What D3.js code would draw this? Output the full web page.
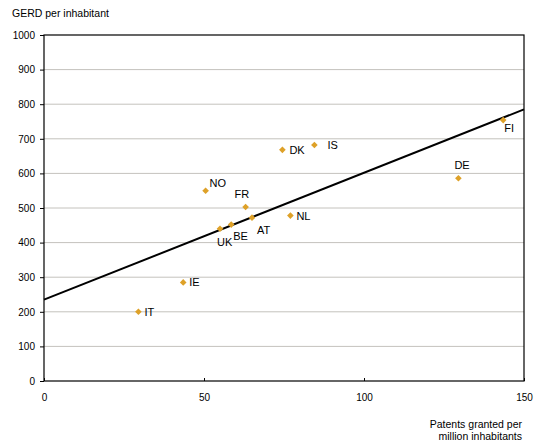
<!DOCTYPE html>
<html>
<head>
<meta charset="UTF-8">
<script src="https://d3js.org/d3.v7.min.js"></script>
<style>
  body { margin: 0; background: #fff; }
  text { font-family: "Liberation Sans", Arial, sans-serif; fill: #000; }
</style>
</head>
<body>
<script>
// data
var countries = ["IT", "IE", "UK", "BE", "AT", "FR", "NL", "NO", "DK", "IS", "DE", "FI"];
var patents   = [29.5, 43.5, 55, 58.5, 65, 63, 77, 50.5, 74.5, 84.5, 129.5, 143.5];
var gerd      = [200, 285, 440, 452, 472, 503, 478, 550, 668, 682, 586, 754];
var trend     = [[0, 235], [150, 785]];
var yTicks = [0, 100, 200, 300, 400, 500, 600, 700, 800, 900, 1000];
var xTicks = [0, 50, 100, 150];

// label offsets (dx, dy) per country
var labelPos = {
  IT: [6, 4], IE: [6, 4], UK: [-3, 17], BE: [2, 15],
  AT: [5, 16], FR: [-11, -9], NL: [6, 4], NO: [4, -4],
  DK: [7, 4], IS: [13, 4], DE: [-4, -9], FI: [1, 12]
};

var width = 534, height = 441;
var plotL = 44, plotR = 524, plotT = 35, plotB = 381;

var svg = d3.select("body").append("svg").attr("width", width).attr("height", height);

var x = d3.scaleLinear().domain([0, 150]).range([plotL, plotR]);
var y = d3.scaleLinear().domain([0, 1000]).range([plotB, plotT]);

// gridlines
svg.selectAll(".grid").data(yTicks.slice(1, -1)).enter().append("line")
  .attr("x1", plotL).attr("x2", plotR)
  .attr("y1", d => y(d)).attr("y2", d => y(d))
  .attr("stroke", "#c4c2bd").attr("stroke-width", 1);

// frame
svg.append("rect").attr("x", plotL).attr("y", plotT)
  .attr("width", plotR - plotL).attr("height", plotB - plotT)
  .attr("fill", "none").attr("stroke", "#000").attr("stroke-width", 1.2);

// y axis
var yAxis = svg.append("g").attr("transform", `translate(${plotL},0)`)
  .call(d3.axisLeft(y).tickValues(yTicks).tickFormat(d3.format("d")).tickSize(4).tickPadding(5));
yAxis.select(".domain").remove();
yAxis.selectAll("text").style("font-size", "10px").attr("font-family", "Liberation Sans, Arial, sans-serif");

// x axis
var xAxis = svg.append("g").attr("transform", `translate(0,${plotB})`)
  .call(d3.axisBottom(x).tickValues(xTicks).tickSize(-3).tickPadding(13));
xAxis.select(".domain").remove();
xAxis.selectAll("text").style("font-size", "10px").attr("font-family", "Liberation Sans, Arial, sans-serif");

// trend line
svg.append("line")
  .attr("x1", x(trend[0][0])).attr("y1", y(trend[0][1]))
  .attr("x2", x(trend[1][0])).attr("y2", y(trend[1][1]))
  .attr("stroke", "#000").attr("stroke-width", 2);

// points
var data = countries.map((c, i) => ({ c: c, x: patents[i], y: gerd[i] }));
var diamond = d3.symbol().type(d3.symbolSquare).size(22);

svg.selectAll(".pt").data(data).enter().append("path")
  .attr("d", diamond)
  .attr("transform", d => `translate(${x(d.x)},${y(d.y)}) rotate(45)`)
  .attr("fill", "#dea128");

svg.selectAll(".lbl").data(data).enter().append("text")
  .attr("x", d => x(d.x) + labelPos[d.c][0])
  .attr("y", d => y(d.y) + labelPos[d.c][1])
  .style("font-size", "11px")
  .text(d => d.c);

// axis titles
svg.append("text").attr("x", 12).attr("y", 17).style("font-size", "10.5px").text("GERD per inhabitant");
svg.append("text").attr("x", 522).attr("y", 428).attr("text-anchor", "end")
  .style("font-size", "10.5px").text("Patents granted per");
svg.append("text").attr("x", 522).attr("y", 440).attr("text-anchor", "end")
  .style("font-size", "10.5px").text("million inhabitants");
</script>
</body>
</html>
